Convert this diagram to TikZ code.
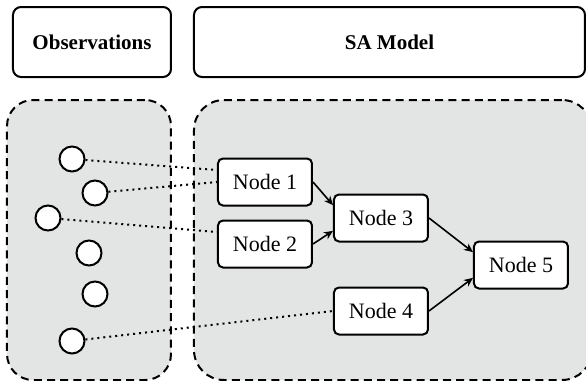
\documentclass[tikz,border=0pt]{standalone}
\usepackage{fontspec}
\setmainfont{Liberation Serif}
\usepackage{tikz}
\usetikzlibrary{shapes.geometric, arrows.meta, positioning}
\usepackage{xcolor}
\definecolor{areagray}{RGB}{227,228,228}

\begin{document}
\begin{tikzpicture}[
        x=0.5pt, y=-0.5pt,
        headbox/.style={rectangle, draw=black, line width=1pt, fill=white, rounded corners=4pt, minimum height=35pt, font=\fontsize{10.5}{12}\selectfont\bfseries},
        areabox/.style={rectangle, draw=black, line width=1pt, dash pattern=on 4pt off 2.6pt, fill=areagray, minimum height=140pt},
        modelbox/.style={rectangle, draw=black, line width=1pt, fill=white, rounded corners=2.5pt, minimum width=47pt, minimum height=23.5pt, font=\fontsize{11}{13}\selectfont},
        obscircle/.style={circle, draw=black, line width=1pt, fill=white, minimum size=12.5pt, inner sep=0pt},
        link/.style={line width=1pt, dotted, draw=black},
        arrow/.style={-{Stealth[length=4.5pt, width=4pt]}, line width=0.8pt, draw=black}
    ]
    \useasboundingbox (0,0) rectangle (586,381);
    \clip (0,0) rectangle (586,381);

    % The Header Boxes
    \node (obshead) [headbox, minimum width=79pt] at (92,42) {Observations};
    \node (samhead) [headbox, minimum width=195.5pt] at (389.5,42) {SA Model};

    % The Dashed Areas
    \node (obsarea) [areabox, minimum width=82pt, rounded corners=13pt] at (89,240) {};
    \node (samarea) [areabox, minimum width=199pt, rounded corners=15pt] at (393,240) {};

    % The Observations
    \node (obs1) [obscircle] at (72,159) {};
    \node (obs2) [obscircle] at (95,193) {};
    \node (obs3) [obscircle] at (48,218) {};
    \node (obs4) [obscircle] at (89,253) {};
    \node (obs5) [obscircle] at (95,294) {};
    \node (obs6) [obscircle] at (72,341) {};

    % The Model Nodes
    \node (node1) [modelbox] at (265,182) {Node 1};
    \node (node2) [modelbox, below=6.5pt of node1] {Node 2};
    \node (node3) [modelbox] at (381,218) {Node 3};
    \node (node4) [modelbox] at (381,311) {Node 4};
    \node (node5) [modelbox] at (521,265) {Node 5};

    % The Dotted Links
    \draw [link] (obs1) -- (node1.166);
    \draw [link] (obs2) -- (node1.west);
    \draw [link] (obs3) -- (node2.166);
    \draw [link] (obs6) -- (node4.west);

    % The Arrows
    \draw [arrow] (node1.east) -- (node3.165);
    \draw [arrow] (node2.east) -- (node3.195);
    \draw [arrow] (node3.east) -- (node5.165);
    \draw [arrow] (node4.east) -- (node5.195);

    \end{tikzpicture}
\end{document}
